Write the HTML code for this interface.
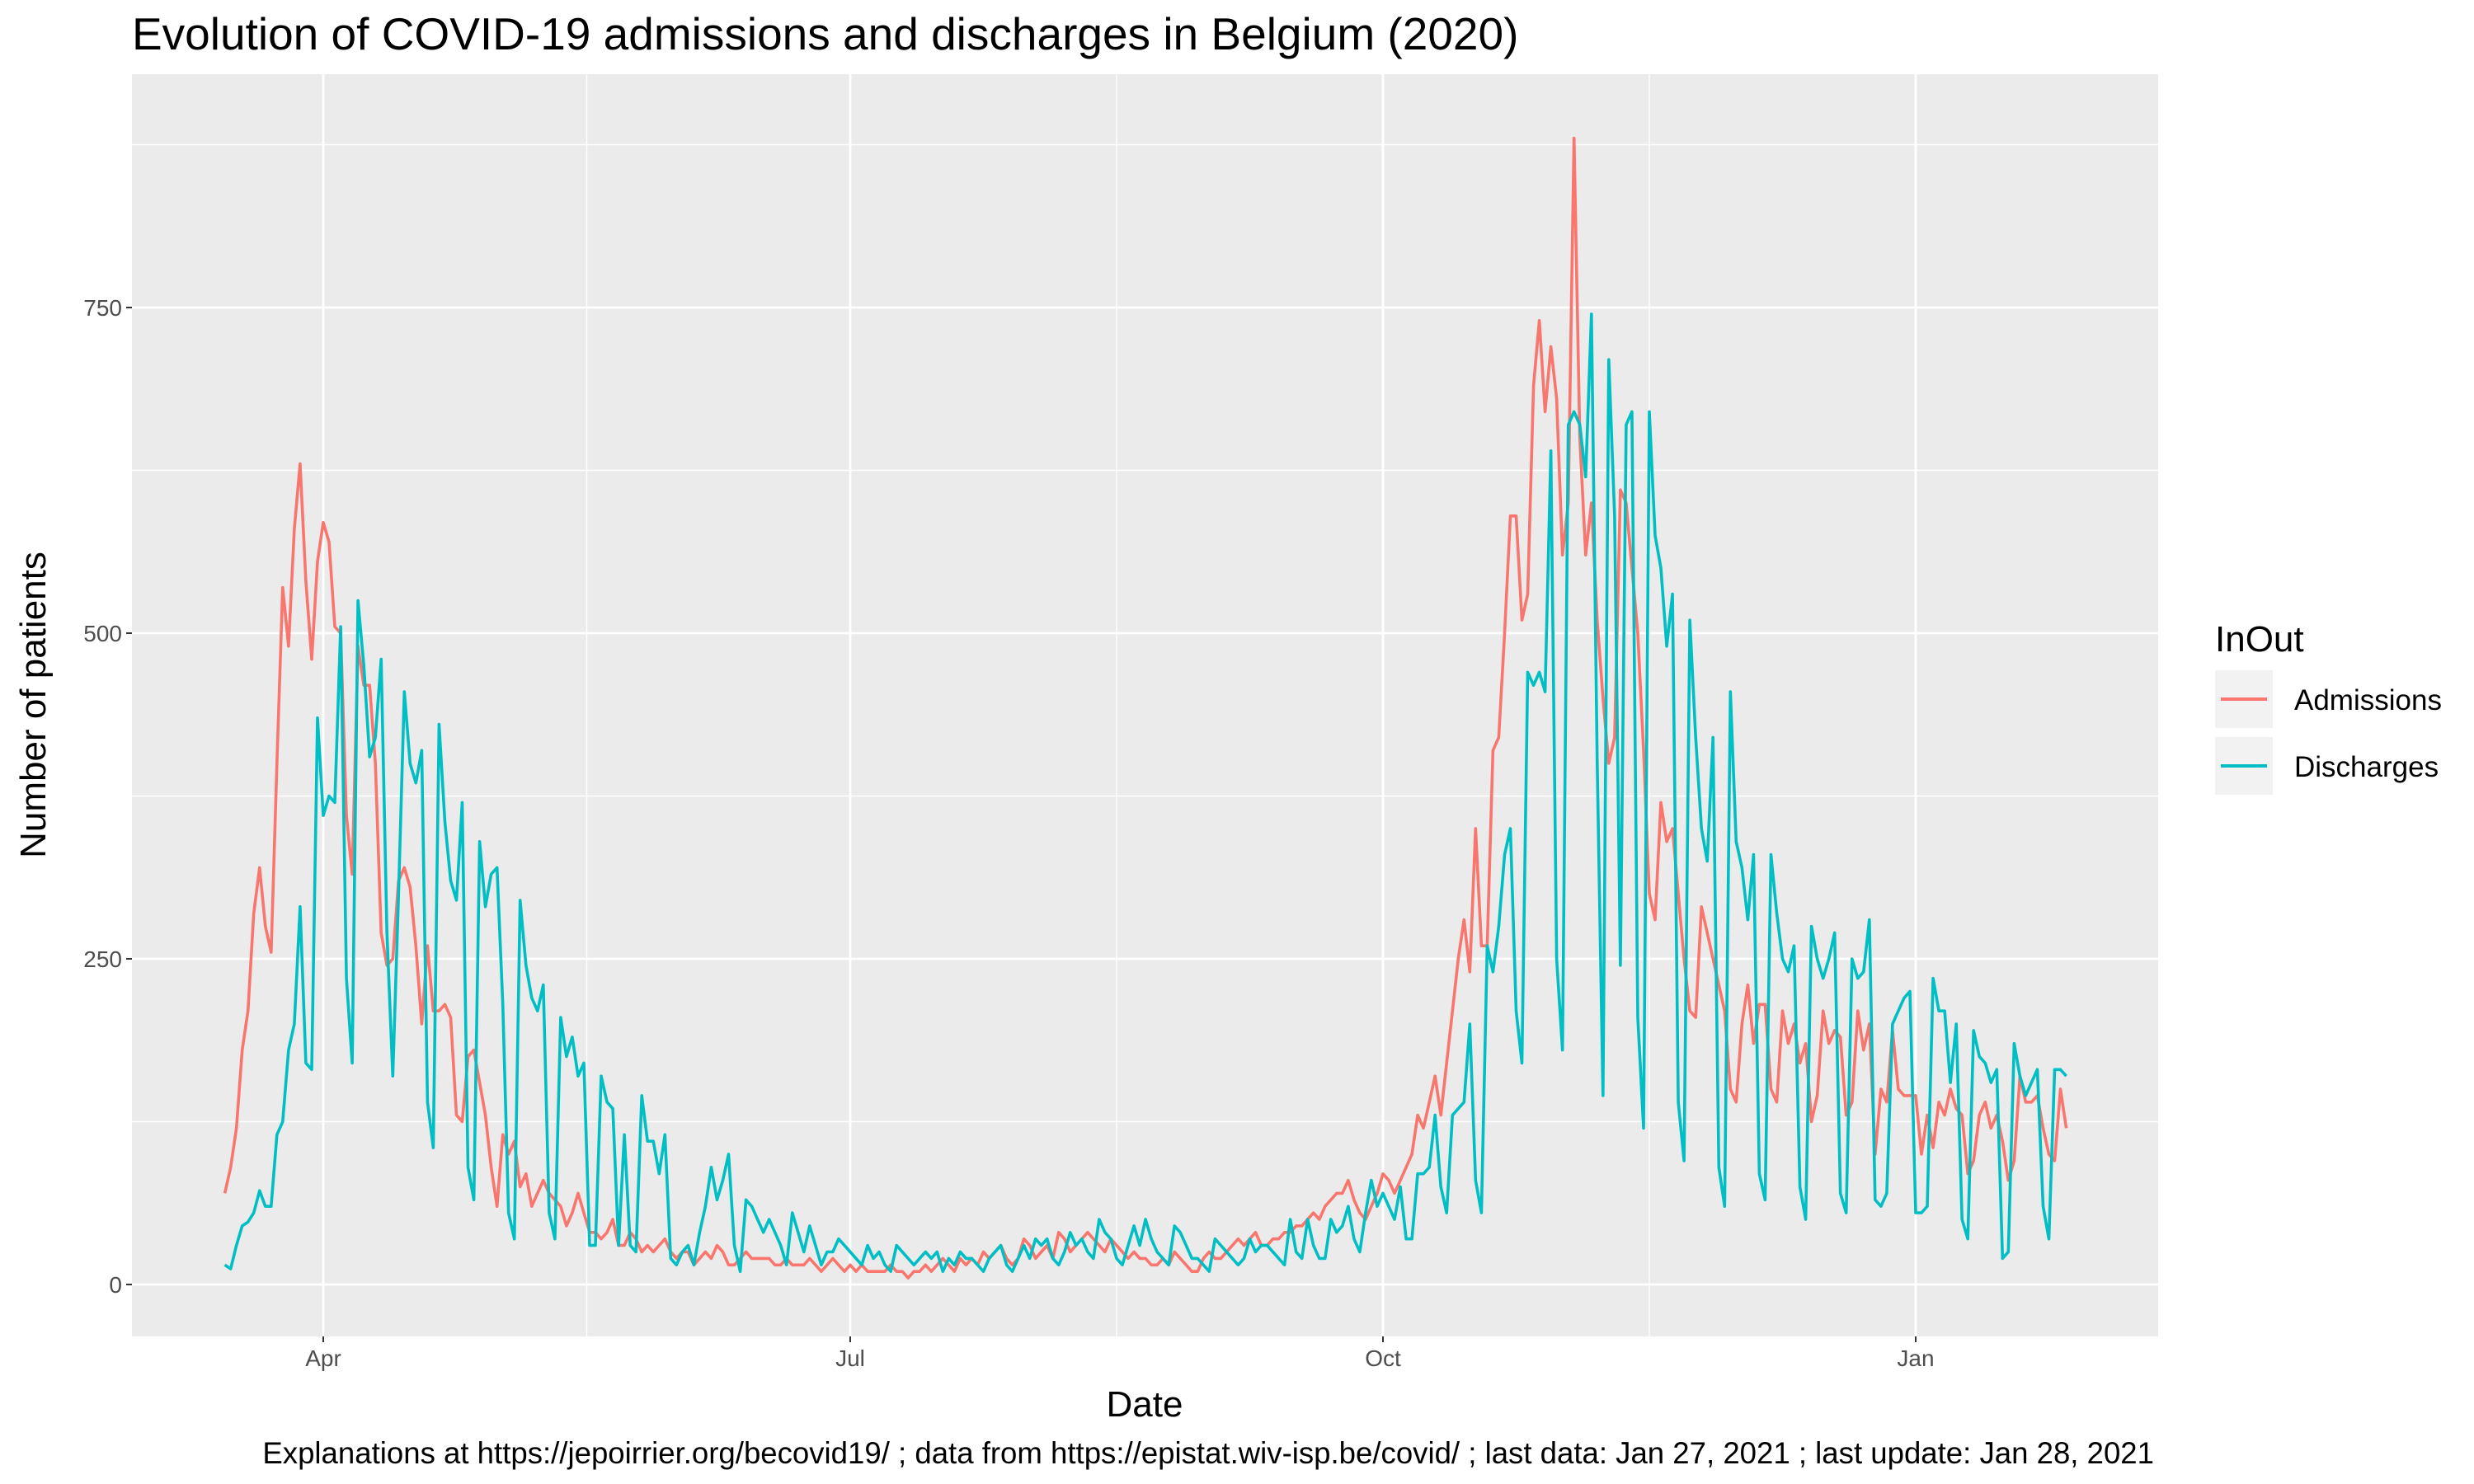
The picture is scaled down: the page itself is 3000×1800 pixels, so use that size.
<!DOCTYPE html>
<html><head><meta charset="utf-8"><style>
html,body{margin:0;padding:0;background:#fff;}
svg{display:block;font-family:"Liberation Sans",Arial,sans-serif;}
</style></head><body>
<svg id="chart" width="3000" height="1800" viewBox="0 0 3000 1800">
<rect x="0" y="0" width="3000" height="1800" fill="#fff"/>
<text x="160" y="60" font-size="55" fill="#000">Evolution of COVID-19 admissions and discharges in Belgium (2020)</text>
<rect x="160" y="90" width="2457" height="1531" fill="#EBEBEB"/>
<g id="grid"></g>
<g id="series"></g>
<g id="axes"></g>
<text x="1388" y="1718" font-size="44" text-anchor="middle" fill="#000">Date</text>
<text transform="translate(55,855) rotate(-90)" font-size="44" text-anchor="middle" fill="#000">Number of patients</text>
<g>
<text x="2686" y="790" font-size="44" fill="#000">InOut</text>
<rect x="2686" y="813" width="70" height="70" fill="#F2F2F2"/>
<line x1="2693" y1="848" x2="2749" y2="848" stroke="#F8766D" stroke-width="4"/>
<text x="2782" y="861" font-size="35" fill="#000">Admissions</text>
<rect x="2686" y="894" width="70" height="70" fill="#F2F2F2"/>
<line x1="2693" y1="929" x2="2749" y2="929" stroke="#00BFC4" stroke-width="4"/>
<text x="2782" y="942" font-size="35" fill="#000">Discharges</text>
</g>
<text x="2612" y="1775" font-size="36.6" text-anchor="end" fill="#000">Explanations at https://jepoirrier.org/becovid19/ ; data from https://epistat.wiv-isp.be/covid/ ; last data: Jan 27, 2021  ; last update: Jan 28, 2021</text>
</svg>
<script>
const startDay = 74; // Mar 15 2020, day-of-year index (Jan 1 = 0)
const admissions = [70,90,120,180,210,285,320,275,255,400,535,490,580,630,540,480,555,
585,570,505,500,360,315,490,460,460,400,270,245,250,310,320,305,260,200,260,210,210,215,205,130,125,175,180,155,130,90,
60,115,100,110,75,85,60,70,80,70,65,60,45,55,70,55,40,40,35,40,50,30,30,40,35,25,30,25,30,35,25,
20,25,25,15,20,25,20,30,25,15,15,20,25,20,20,20,20,15,15,20,15,15,15,20,15,10,15,20,15,10,
15,10,15,10,10,10,10,15,10,10,5,10,10,15,10,15,20,15,10,20,15,20,15,25,20,25,30,20,15,20,35,
30,20,25,30,20,40,35,25,30,35,40,35,30,25,35,30,25,20,25,20,20,15,15,20,15,25,20,15,10,10,20,
25,20,20,25,30,35,30,35,40,30,30,35,35,40,40,45,45,50,55,50,60,65,70,70,80,65,55,50,60,70,
85,80,70,80,90,100,130,120,140,160,130,170,210,250,280,240,350,260,260,410,420,500,590,590,510,530,690,740,670,720,680,
560,600,880,650,560,600,510,450,400,420,610,600,550,500,410,300,280,370,340,350,300,250,210,205,290,270,250,230,210,150,
140,200,230,185,215,215,150,140,210,185,200,170,185,125,145,210,185,195,190,130,140,210,180,200,100,150,140,195,150,145,145,
145,100,130,105,140,130,150,135,130,85,95,130,140,120,130,110,80,95,160,140,140,145,120,100,95,150,120];
const discharges = [15,12,30,45,48,55,72,60,60,115,125,180,200,290,170,165,435,
360,375,370,505,235,170,525,475,405,420,480,270,160,300,455,400,385,410,140,105,430,355,310,295,370,90,65,340,290,315,
320,215,55,35,295,245,220,210,230,55,35,205,175,190,160,170,30,30,160,140,135,30,115,30,25,145,110,110,85,115,20,
15,25,30,15,40,60,90,65,80,100,30,10,65,60,50,40,50,40,30,15,55,40,25,45,30,15,25,25,35,30,
25,20,15,30,20,25,15,10,30,25,20,15,20,25,20,25,10,20,15,25,20,20,15,10,20,25,30,15,10,20,30,
20,35,30,35,20,15,25,40,30,35,25,20,50,40,35,20,15,30,45,30,50,35,25,20,15,45,40,30,20,20,15,
10,35,30,25,20,15,20,35,25,30,30,25,20,15,50,25,20,50,30,20,20,50,40,45,60,35,25,55,80,60,
70,60,50,75,35,35,85,85,90,130,75,55,130,135,140,200,80,55,260,240,275,330,350,210,170,470,460,470,455,640,250,
180,660,670,660,620,745,400,145,710,590,245,660,670,205,120,670,575,550,490,530,140,95,510,420,350,325,420,90,60,455,
340,320,280,330,85,65,330,285,250,240,260,75,50,275,250,235,250,270,70,55,250,235,240,280,65,60,70,200,210,220,225,
55,55,60,235,210,210,155,200,50,35,195,175,170,155,165,20,25,185,160,145,155,165,60,35,165,165,160];
const yTicks = [0,250,500,750];
const yMinor = [125,375,625,875];
const xTickDays = [91,182,274,366];
const xTickLabels = ["Apr","Jul","Oct","Jan"];
const xMinorDays = [136.5,228,320];

const NS="http://www.w3.org/2000/svg";
const P={l:160,r:2617,t:90,b:1621};
function xs(d){return 392+(d-91)*(2323-392)/275;}
function ys(v){return 1558-v*(1558-373)/750;}
function mk(tag,attrs,parent){const e=document.createElementNS(NS,tag);for(const k in attrs)e.setAttribute(k,attrs[k]);parent.appendChild(e);return e;}
const grid=document.getElementById('grid'),axes=document.getElementById('axes'),series=document.getElementById('series');
yMinor.forEach(v=>{const l=mk('line',{x1:P.l,x2:P.r,y1:ys(v),y2:ys(v),stroke:'#fff','stroke-width':1.4},grid);

});
xMinorDays.forEach(d=>{const l=mk('line',{x1:xs(d),x2:xs(d),y1:P.t,y2:P.b,stroke:'#fff','stroke-width':1.4},grid);

});
yTicks.forEach(v=>{const l=mk('line',{x1:P.l,x2:P.r,y1:ys(v),y2:ys(v),stroke:'#fff','stroke-width':2.8},grid);


const t=mk('line',{x1:P.l-7,x2:P.l,y1:ys(v),y2:ys(v),stroke:'#333','stroke-width':2},axes);


const tx=mk('text',{x:P.l-12,y:ys(v)+10,'font-size':28,'text-anchor':'end',fill:'#4D4D4D'},axes);
tx.textContent=v;

});
xTickDays.forEach((d,i)=>{const l=mk('line',{x1:xs(d),x2:xs(d),y1:P.t,y2:P.b,stroke:'#fff','stroke-width':2.8},grid);


const t=mk('line',{x1:xs(d),x2:xs(d),y1:P.b,y2:P.b+7,stroke:'#333','stroke-width':2},axes);


const tx=mk('text',{x:xs(d),y:P.b+36,'font-size':28,'text-anchor':'middle',fill:'#4D4D4D'},axes);
tx.textContent=xTickLabels[i];

});
function line(arr,color,name){const pts=arr.map((v,i)=>xs(startDay+i).toFixed(1)+','+ys(v).toFixed(1)).join(' ');
const pl=mk('polyline',{points:pts,fill:'none',stroke:color,'stroke-width':3.6,'stroke-linejoin':'round'},series);

}
line(admissions,'#F8766D','admissions-line');
line(discharges,'#00BFC4','discharges-line');
</script>
</body></html>
